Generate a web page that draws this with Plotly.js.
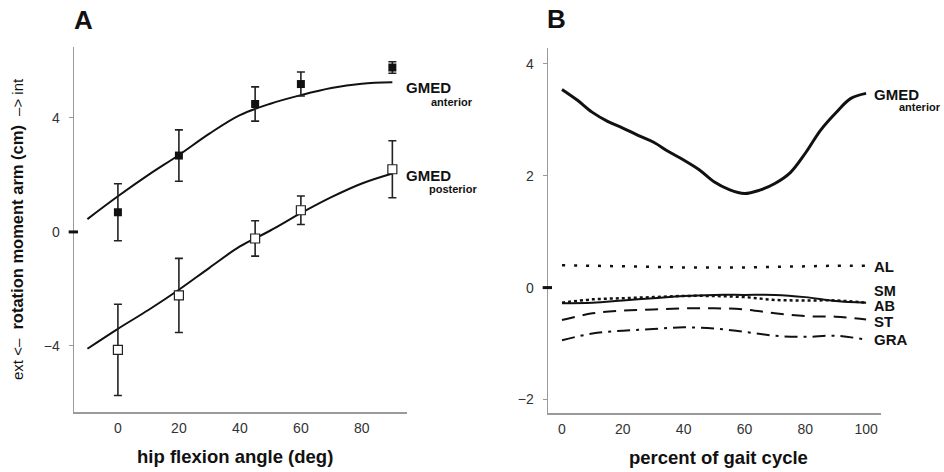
<!DOCTYPE html>
<html>
<head>
<meta charset="utf-8">
<script src="https://cdn.plot.ly/plotly-3.0.1.min.js"></script>
<style>html,body{margin:0;padding:0;background:#fff;}#chart{width:944px;height:472px;}</style>
</head>
<body>
<div id="chart"></div>
<script>
// ---- Panel A data ----
const angleFit = [-10, 0, 10, 20, 30, 40, 50, 60, 70, 80, 90];
const anteriorFit = [0.45, 1.25, 2.0, 2.7, 3.45, 4.1, 4.5, 4.8, 5.05, 5.2, 5.25];
const posteriorFit = [-4.1, -3.4, -2.74, -2.03, -1.26, -0.51, 0.05, 0.66, 1.22, 1.7, 2.05];
const angleMeasured = [0, 20, 45, 60, 90];
const anteriorMean = [0.69, 2.68, 4.49, 5.19, 5.77];
const anteriorSD = [1.0, 0.9, 0.6, 0.42, 0.2];
const posteriorMean = [-4.14, -2.23, -0.23, 0.76, 2.2];
const posteriorSD = [1.6, 1.3, 0.62, 0.5, 1.0];
const angleTicks = [0, 20, 40, 60, 80];
const momentTicksA = [-4, 0, 4];

// ---- Panel B data ----
const gaitFine = [0, 5, 10, 15, 20, 25, 30, 35, 40, 45, 50, 55, 60, 65, 70, 75, 80, 85, 90, 95, 100];
const gmedAnteriorGait = [3.54, 3.35, 3.13, 2.97, 2.85, 2.72, 2.6, 2.43, 2.28, 2.11, 1.89, 1.75, 1.68, 1.74, 1.86, 2.05, 2.4, 2.81, 3.12, 3.38, 3.47];
const gaitCoarse = [0, 10, 20, 30, 40, 50, 60, 70, 80, 90, 100];
const AL = [0.40, 0.39, 0.38, 0.37, 0.36, 0.36, 0.36, 0.37, 0.38, 0.39, 0.39];
const SM = [-0.28, -0.27, -0.23, -0.19, -0.15, -0.13, -0.13, -0.13, -0.17, -0.24, -0.27];
const AB = [-0.27, -0.21, -0.19, -0.17, -0.15, -0.15, -0.17, -0.22, -0.23, -0.23, -0.27];
const ST = [-0.58, -0.46, -0.41, -0.39, -0.37, -0.37, -0.39, -0.46, -0.51, -0.52, -0.57];
const GRA = [-0.94, -0.82, -0.77, -0.74, -0.71, -0.73, -0.79, -0.86, -0.88, -0.86, -0.93];
const gaitTicks = [0, 20, 40, 60, 80, 100];
const momentTicksB = [-2, 0, 2, 4];

const W = 944, H = 472;
const px = v => v / W;
const py = v => 1 - v / H;
const FONT = "Liberation Sans, Arial, Helvetica, sans-serif";
const INK = '#111';

const traces = [
  {x: angleFit, y: anteriorFit, mode: 'lines', line: {color: INK, width: 2, shape: 'spline'}, xaxis: 'x', yaxis: 'y'},
  {x: angleFit, y: posteriorFit, mode: 'lines', line: {color: INK, width: 2, shape: 'spline'}, xaxis: 'x', yaxis: 'y'},
  {x: angleMeasured, y: anteriorMean, mode: 'markers', marker: {symbol: 'square', size: 8, color: INK},
   error_y: {type: 'data', array: anteriorSD, visible: true, color: '#222', thickness: 1.6, width: 4}, xaxis: 'x', yaxis: 'y'},
  {x: angleMeasured, y: posteriorMean, mode: 'markers', marker: {symbol: 'square', size: 9, color: '#fff', line: {color: '#222', width: 1.2}},
   error_y: {type: 'data', array: posteriorSD, visible: true, color: '#222', thickness: 1.6, width: 4}, xaxis: 'x', yaxis: 'y'},
  {x: gaitFine, y: gmedAnteriorGait, mode: 'lines', line: {color: INK, width: 3, shape: 'spline'}, xaxis: 'x2', yaxis: 'y2'},
  {x: gaitCoarse, y: AL, mode: 'lines', line: {color: INK, width: 2.5, dash: '3px,9px', shape: 'spline'}, xaxis: 'x2', yaxis: 'y2'},
  {x: gaitCoarse, y: SM, mode: 'lines', line: {color: INK, width: 2, shape: 'spline'}, xaxis: 'x2', yaxis: 'y2'},
  {x: gaitCoarse, y: AB, mode: 'lines', line: {color: INK, width: 2.5, dash: '3px,3px', shape: 'spline'}, xaxis: 'x2', yaxis: 'y2'},
  {x: gaitCoarse, y: ST, mode: 'lines', line: {color: INK, width: 2, dash: '13px,8px', shape: 'spline'}, xaxis: 'x2', yaxis: 'y2'},
  {x: gaitCoarse, y: GRA, mode: 'lines', line: {color: INK, width: 2, dash: '13px,6px,3px,6px', shape: 'spline'}, xaxis: 'x2', yaxis: 'y2'}
];

const axisCommon = {
  showgrid: false, zeroline: false, showline: true, linecolor: '#9a9a9a', linewidth: 1.5,
  tickfont: {family: FONT, size: 14, color: '#333'}, fixedrange: true
};

function ann(text, x, y, size, xanchor, extra) {
  return Object.assign({text: text, x: px(x), y: py(y), xref: 'paper', yref: 'paper',
    xanchor: xanchor || 'center', yanchor: 'middle', showarrow: false,
    font: {size: size, family: FONT, color: INK}}, extra || {});
}

const layout = {
  width: W, height: H,
  margin: {l: 0, r: 0, t: 0, b: 0},
  paper_bgcolor: '#fff', plot_bgcolor: '#fff',
  showlegend: false,
  font: {family: FONT, color: INK},
  xaxis: Object.assign({}, axisCommon, {domain: [px(74), px(407)], range: [-14.4, 94.8], anchor: 'y',
    tickvals: angleTicks, ticks: '', ticklabelstandoff: 3}),
  yaxis: Object.assign({}, axisCommon, {domain: [py(412), py(47)], range: [-6.32, 6.49], anchor: 'x',
    tickvals: momentTicksA, ticks: 'outside', ticklen: 4, tickcolor: '#9a9a9a', tickwidth: 1, ticklabelstandoff: 6}),
  xaxis2: Object.assign({}, axisCommon, {domain: [px(548), px(881)], range: [-4.6, 104.9], anchor: 'y2',
    tickvals: gaitTicks, ticks: '', ticklabelstandoff: 3}),
  yaxis2: Object.assign({}, axisCommon, {domain: [py(413), py(48)], range: [-2.24, 4.28], anchor: 'x2',
    tickvals: momentTicksB, ticks: 'outside', ticklen: 4, tickcolor: '#9a9a9a', tickwidth: 1, ticklabelstandoff: 6}),
  shapes: [
    {type: 'line', xref: 'x domain', yref: 'y', x0: -0.016, x1: 0.012, y0: 0, y1: 0, line: {color: INK, width: 3}},
    {type: 'line', xref: 'x2 domain', yref: 'y2', x0: -0.016, x1: 0.012, y0: 0, y1: 0, line: {color: INK, width: 3}}
  ],
  annotations: [
    ann('<b>A</b>', 83, 20, 26),
    ann('<b>B</b>', 556, 19, 26),
    ann('<b>hip flexion angle (deg)</b>', 235, 456, 18.5),
    ann('<b>percent of gait cycle</b>', 718, 457, 18.5),
    ann('<span style="font-size:15px;fill:#111">ext &lt;–</span>  <b>rotation moment arm (cm)</b>  <span style="font-size:15px;fill:#111">–&gt; int</span>',
        17, 229, 16.5, 'center', {textangle: -90}),
    ann('<b>GMED</b>', 404, 87, 15, 'left'),
    ann('<b>anterior</b>', 429, 102, 11, 'left'),
    ann('<b>GMED</b>', 404, 175, 15, 'left'),
    ann('<b>posterior</b>', 427, 189, 11, 'left'),
    ann('<b>GMED</b>', 872, 94, 15, 'left'),
    ann('<b>anterior</b>', 897, 107, 11, 'left'),
    ann('<b>AL</b>', 872, 266, 15, 'left'),
    ann('<b>SM</b>', 872, 291, 14.5, 'left'),
    ann('<b>AB</b>', 872, 306, 14.5, 'left'),
    ann('<b>ST</b>', 872, 321, 15, 'left'),
    ann('<b>GRA</b>', 872, 339, 15, 'left')
  ]
};

Plotly.newPlot('chart', traces, layout, {staticPlot: true, displayModeBar: false});
</script>
</body>
</html>
